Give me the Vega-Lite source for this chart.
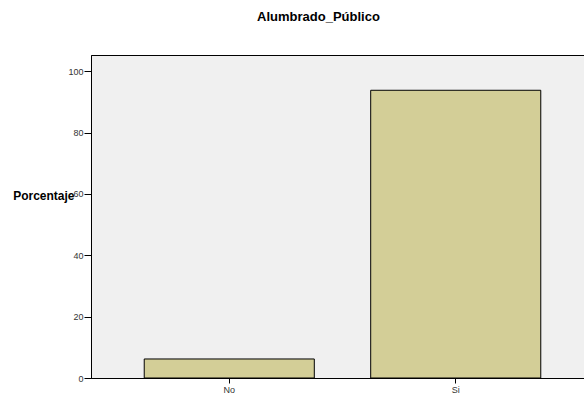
{
  "$schema": "https://vega.github.io/schema/vega-lite/v6.json",
  "autosize": {"type": "none"},
  "padding": {"left": 91, "top": 55, "right": 0, "bottom": 18},
  "width": 503,
  "height": 323,
  "background": "white",
  "config": {
    "font": "Liberation Sans",
    "view": {"fill": "#f0f0f0", "stroke": "black", "strokeWidth": 1}
  },
  "title": {
    "text": "Alumbrado_Público",
    "font": "Liberation Sans",
    "fontSize": 13,
    "fontWeight": "bold",
    "color": "black",
    "anchor": "middle",
    "frame": "group",
    "dx": -24,
    "offset": 31,
    "baseline": "top"
  },
  "data": {
    "values": [
      {"Alumbrado_Publico": "No", "Porcentaje": 6.2},
      {"Alumbrado_Publico": "Si", "Porcentaje": 93.8}
    ]
  },
  "mark": {"type": "bar", "fill": "#d3ce97", "stroke": "black", "strokeWidth": 1},
  "encoding": {
    "x": {
      "field": "Alumbrado_Publico",
      "type": "nominal",
      "scale": {"paddingInner": 0.249, "paddingOuter": 0.235},
      "axis": {
        "title": null,
        "labelAngle": 0,
        "labelFontSize": 9,
        "labelColor": "#333",
        "labelPadding": 2,
        "tickColor": "black",
        "tickSize": 5,
        "domainColor": "black",
        "grid": false
      }
    },
    "y": {
      "field": "Porcentaje",
      "type": "quantitative",
      "scale": {"domain": [0, 105.3], "nice": false},
      "axis": {
        "values": [0, 20, 40, 60, 80, 100],
        "title": "Porcentaje",
        "titleAngle": 0,
        "titleAlign": "right",
        "titleBaseline": "middle",
        "titleX": -17,
        "titleY": 140,
        "titleFontSize": 12,
        "titleFontWeight": "bold",
        "titleColor": "black",
        "labelFontSize": 9,
        "labelColor": "#333",
        "labelPadding": 1,
        "tickColor": "black",
        "tickSize": 7,
        "domainColor": "black",
        "grid": false
      }
    }
  }
}
